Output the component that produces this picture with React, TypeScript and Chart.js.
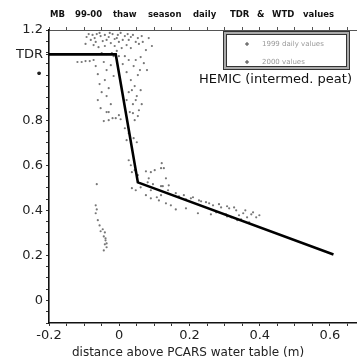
import React, { useEffect, useRef } from 'react';
import { Chart, registerables } from 'chart.js';

Chart.register(...registerables);

const chartTitle = 'MB 99-00 thaw season daily TDR & WTD values';
const xAxisTitle = 'distance above PCARS water table (m)';
const noteText = 'HEMIC (intermed. peat)';
const series1Label = '1999 daily values';
const series2Label = '2000 values';

// series 1: upper cloud (near TDR depth)
const series1X = [
  -0.087, -0.076, -0.064, -0.053, -0.041, -0.030, -0.019, -0.007, 0.004, 0.016, 0.027, 0.039, 0.053, 0.064,
  -0.081, -0.067, -0.047, -0.024, -0.001, 0.021, -0.096, -0.059, 0.033, 0.056, 0.076, 0.061, 0.047, 0.070, 0.079,
  -0.119, -0.107, -0.096, -0.084, -0.073, -0.064, -0.050, -0.036, -0.021,
  -0.044, -0.036, -0.041, -0.030, -0.036, -0.024, -0.030, -0.019, -0.024, -0.016, -0.050, -0.061,
  0.010, 0.021, 0.033, 0.044, 0.027, 0.050, 0.039, 0.056, 0.021, 0.061, 0.053, -0.001,
  -0.036, -0.030, -0.010, 0.004, 0.039, 0.053, 0.016, 0.027, 0.041, 0.050, 0.021,
  -0.093, -0.070, -0.056, -0.036, -0.013, 0.010, 0.033, 0.047, -0.027, -0.004, -0.073, -0.041, -0.013, 0.007,
  0.024, 0.067, 0.084, 0.093, -0.007, -0.016, -0.001,
  -0.067, -0.061, -0.056, -0.053, -0.044,
  0.016, 0.027, 0.041, 0.059, 0.036, 0.047, 0.064, 0.030, 0.044,
];
const series1Y = [
  1.182, 1.178, 1.182, 1.173, 1.178, 1.169, 1.182, 1.164, 1.187, 1.173, 1.156, 1.178, 1.164, 1.173,
  1.156, 1.147, 1.151, 1.142, 1.147, 1.133, 1.138, 1.124, 1.120, 1.138, 1.111, 1.080, 1.067, 1.053, 1.022,
  1.058, 1.058, 1.062, 1.062, 1.067, 1.093, 1.098, 1.093, 1.098,
  1.058, 1.022, 0.978, 0.942, 0.907, 0.871, 0.836, 0.809, 1.044, 0.996, 0.924, 0.889,
  1.049, 1.013, 0.978, 0.951, 0.924, 0.907, 0.871, 0.844, 0.889, 0.933, 1.000, 0.822,
  0.836, 0.800, 0.809, 0.804, 0.831, 0.818, 0.764, 0.742, 0.720, 0.702, 0.711,
  1.169, 1.164, 1.187, 1.156, 1.160, 1.156, 1.169, 1.147, 1.187, 1.178, 1.133, 1.129, 1.129, 1.120,
  1.182, 1.147, 1.164, 1.129, 1.107, 1.084, 1.084,
  1.040, 1.004, 0.960, 0.853, 0.796,
  1.084, 1.067, 1.040, 1.022, 0.933, 0.889, 0.871, 0.836, 0.800,
];

// series 2: lower cloud (knee, lower branch, and left strip)
const series2X = [
  0.033, 0.044, 0.053, 0.076, 0.090, 0.101, 0.121, 0.127, 0.133, 0.124, 0.139, 0.036, 0.047, 0.061, 0.076, 0.090, 0.107,
  -0.064, -0.067,
  0.081, 0.096, 0.119, 0.141, 0.113, 0.133, 0.170, 0.190, 0.210, 0.227, 0.247, 0.267, 0.290, 0.313, 0.333, 0.353,
  0.376, 0.390, 0.319, 0.347, 0.370, 0.161, 0.224, 0.276, 0.304, 0.341,
  -0.067, -0.061, -0.056, -0.047, -0.041, -0.044, -0.039, -0.041, -0.036, -0.044,
  0.161, 0.184, 0.204, 0.233, 0.256, 0.284, 0.307, 0.327, 0.359, 0.381, 0.399, 0.364, 0.336, 0.307, 0.261,
  0.190, 0.147, 0.119, 0.090,
  0.027, 0.036, 0.119, 0.084,
  -0.064, -0.053, -0.039, -0.036,
];
const series2Y = [
  0.600, 0.578, 0.556, 0.573, 0.569, 0.578, 0.609, 0.587, 0.542, 0.507, 0.489, 0.498, 0.489, 0.502, 0.467, 0.453, 0.458,
  0.516, 0.422,
  0.524, 0.516, 0.507, 0.511, 0.444, 0.431, 0.462, 0.449, 0.458, 0.444, 0.436, 0.422, 0.413, 0.409, 0.400, 0.387,
  0.382, 0.369, 0.369, 0.360, 0.347, 0.404, 0.387, 0.391, 0.382, 0.378,
  0.387, 0.356, 0.333, 0.316, 0.302, 0.284, 0.267, 0.249, 0.236, 0.222,
  0.476, 0.467, 0.453, 0.440, 0.431, 0.427, 0.418, 0.413, 0.400, 0.391, 0.378, 0.369, 0.356, 0.373, 0.382,
  0.409, 0.422, 0.467, 0.489,
  0.622, 0.569, 0.587, 0.542,
  0.404, 0.307, 0.276, 0.253,
];

// fitted TDR response line
const fitX = [-0.2, -0.01, 0.053, 0.61];
const fitY = [1.092, 1.092, 0.524, 0.204];

const xMin = -0.2;
const xMax = 0.677;
const yMin = -0.1;
const yMax = 1.2;
const xLabelValues = [-0.2, 0, 0.2, 0.4, 0.6];
const xLabelTexts = ['-0.2', '0', '0.2', '0.4', '0.6'];
const yLabelValues = [0, 0.2, 0.4, 0.6, 0.8, 1.0, 1.092, 1.2];
const yLabelTexts = ['0', '0.2', '0.4', '0.6', '0.8', '\u2022', 'TDR', '1.2'];

const FONT = '"DejaVu Sans", Verdana, sans-serif';

function minorTicks(min: number, max: number, extra: number[]) {
  const out: number[] = [];
  for (let i = Math.round(min * 20); i <= Math.round(max * 20); i++) out.push(i / 20);
  extra.forEach((e) => { if (!out.some((v) => Math.abs(v - e) < 1e-6)) out.push(e); });
  return out.sort((a, b) => a - b);
}

function labelFor(v: number, vals: number[], texts: string[]) {
  const idx = vals.findIndex((x) => Math.abs(x - v) < 1e-6);
  return idx >= 0 ? texts[idx] : '';
}

const toPts = (xs: number[], ys: number[]) => xs.map((x, i) => ({ x, y: ys[i] }));

const overlayPlugin = {
  id: 'overlay',
  afterDraw(chart: any) {
    const ctx = chart.ctx as CanvasRenderingContext2D;
    ctx.save();
    // title, word by word with wide spacing
    const words = chartTitle.split(' ');
    const wordX = [50, 75, 113, 148, 193, 230, 257, 272, 303];
    ctx.font = `bold 8.5px ${FONT}`;
    ctx.fillStyle = '#111';
    ctx.textBaseline = 'middle';
    ctx.textAlign = 'left';
    words.forEach((w, i) => ctx.fillText(w, wordX[i], 15));

    // legend box (double frame)
    const bx = 223.5, by = 31.5, bw = 126, bh = 38;
    ctx.fillStyle = '#fff';
    ctx.fillRect(bx, by, bw, bh);
    ctx.strokeStyle = '#aaa';
    ctx.lineWidth = 3;
    ctx.strokeRect(bx + 1.5, by + 1.5, bw - 3, bh - 3);
    ctx.strokeStyle = '#333';
    ctx.lineWidth = 1;
    ctx.strokeRect(bx, by, bw, bh);
    ctx.strokeRect(bx + 3, by + 3, bw - 6, bh - 6);
    // legend rows
    const rows = [series1Label, series2Label];
    const rowY = [44, 62];
    rows.forEach((t, i) => {
      ctx.strokeStyle = '#444';
      ctx.lineWidth = 1;
      ctx.beginPath();
      ctx.moveTo(245, rowY[i]); ctx.lineTo(249, rowY[i]);
      ctx.moveTo(247, rowY[i] - 2); ctx.lineTo(247, rowY[i] + 2);
      ctx.stroke();
      ctx.font = `7px ${FONT}`;
      ctx.fillStyle = '#999';
      ctx.fillText(t, 262, rowY[i]);
    });

    // annotation
    ctx.font = `13px ${FONT}`;
    ctx.fillStyle = '#111';
    ctx.textAlign = 'right';
    ctx.fillText(noteText, 352, 80);

    // x axis title
    ctx.font = `12px ${FONT}`;
    ctx.textAlign = 'center';
    ctx.fillStyle = '#222';
    ctx.fillText(xAxisTitle, 188, 353);
    ctx.restore();
  },
};

export default function App() {
  const ref = useRef<HTMLCanvasElement | null>(null);
  useEffect(() => {
    document.body.style.margin = '0';
    if (!ref.current) return;
    const xTicks = minorTicks(xMin, 0.65, []);
    const yTicks = minorTicks(yMin, yMax, [1.092]);
    const scatterStyle = {
      pointRadius: 1.1,
      pointBorderWidth: 0,
      borderColor: '#777',
      backgroundColor: '#777',
    };
    const chart = new Chart(ref.current, {
      type: 'scatter',
      data: {
        datasets: [
          {
            label: 'fit',
            data: toPts(fitX, fitY),
            showLine: true,
            borderColor: '#000',
            borderWidth: 2.6,
            pointRadius: 0,
            order: 0,
          } as any,
          { label: series1Label, data: toPts(series1X, series1Y), order: 1, ...scatterStyle },
          { label: series2Label, data: toPts(series2X, series2Y), order: 2, ...scatterStyle },
        ],
      },
      options: {
        responsive: false,
        animation: false,
        layout: { padding: 0, autoPadding: false },
        plugins: { legend: { display: false }, title: { display: false }, tooltip: { enabled: false } },
        scales: {
          x: {
            type: 'linear',
            position: 'bottom',
            min: xMin,
            max: xMax,
            afterBuildTicks: (s: any) => { s.ticks = xTicks.map((v) => ({ value: v })); },
            afterFit: (s: any) => { s.height = 37; },
            ticks: {
              autoSkip: false,
              maxRotation: 0,
              padding: 2,
              color: '#222',
              font: { family: FONT, size: 13 },
              callback: (v: any) => labelFor(Number(v), xLabelValues, xLabelTexts),
            },
            grid: { drawOnChartArea: false, tickLength: 3, color: '#333' },
            border: { color: '#111', width: 1.6 },
          },
          x2: {
            type: 'linear',
            position: 'top',
            min: xMin,
            max: xMax,
            afterBuildTicks: (s: any) => { s.ticks = xTicks.map((v) => ({ value: v })); },
            afterFit: (s: any) => { s.height = 30; },
            ticks: { display: false },
            grid: { drawOnChartArea: false, tickLength: 3, color: '#555' },
            border: { color: '#555', width: 1, dash: [2, 1] },
          },
          y: {
            type: 'linear',
            min: yMin,
            max: yMax,
            afterBuildTicks: (s: any) => { s.ticks = yTicks.map((v) => ({ value: v })); },
            afterFit: (s: any) => { s.width = 49; },
            ticks: {
              autoSkip: false,
              padding: 3,
              color: '#222',
              font: { family: FONT, size: 13 },
              callback: (v: any) => labelFor(Number(v), yLabelValues, yLabelTexts),
            },
            grid: { drawOnChartArea: false, tickLength: 3, color: '#333' },
            border: { color: '#111', width: 1.6 },
          },
        },
      },
      plugins: [overlayPlugin],
    });
    return () => chart.destroy();
  }, []);
  return (
    <div style={{ width: 357, height: 360 }}>
      <canvas ref={ref} width={357} height={360} style={{ display: 'block', width: 357, height: 360 }} />
    </div>
  );
}
